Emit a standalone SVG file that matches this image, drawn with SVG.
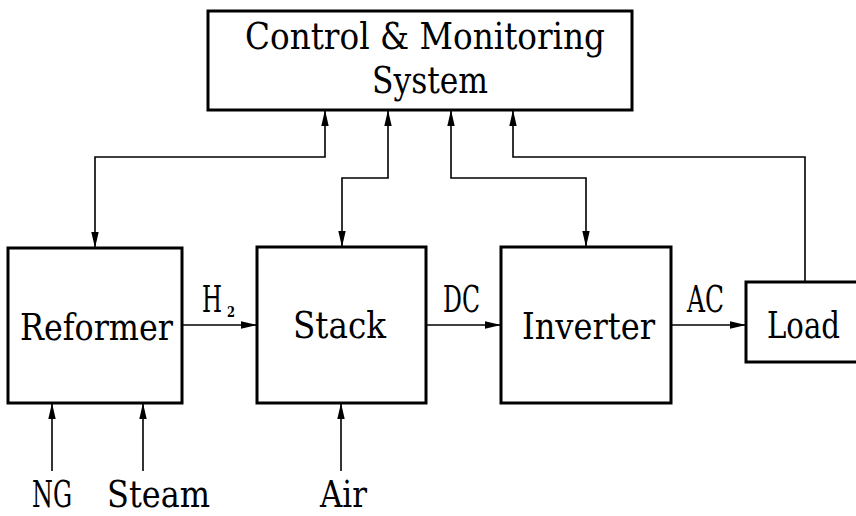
<svg xmlns="http://www.w3.org/2000/svg" width="856" height="516" viewBox="0 0 856 516">
<style>
.box{fill:#fff;stroke:#000;stroke-width:3}
.c{fill:none;stroke:#000;stroke-width:1.6}
.t{font-family:'DejaVu Serif','Liberation Serif',serif;font-size:38px;fill:#000}
.s{font-family:'DejaVu Serif','Liberation Serif',serif;font-size:15px;font-weight:bold;fill:#000}
</style>
<defs>
<marker id="ah" markerUnits="userSpaceOnUse" markerWidth="16" markerHeight="8" refX="15" refY="4" orient="auto-start-reverse" viewBox="0 0 16 8">
<path d="M0,0.3 L16,4 L0,7.7 z" fill="#000"/>
</marker>
</defs>
<rect width="856" height="516" fill="#fff"/>
<g id="connectors">
<path class="c" d="M325,111 V157 H95 V247" marker-start="url(#ah)" marker-end="url(#ah)"/>
<path class="c" d="M388,111 V178 H342 V246" marker-start="url(#ah)" marker-end="url(#ah)"/>
<path class="c" d="M451,111 V178 H586 V246" marker-start="url(#ah)" marker-end="url(#ah)"/>
<path class="c" d="M513,111 V157 H805 V282" marker-start="url(#ah)"/>
<path class="c" d="M182,325 H256" marker-end="url(#ah)"/>
<path class="c" d="M426,325 H500" marker-end="url(#ah)"/>
<path class="c" d="M671,325 H745" marker-end="url(#ah)"/>
<path class="c" d="M52,471 V404" marker-end="url(#ah)"/>
<path class="c" d="M143,471 V404" marker-end="url(#ah)"/>
<path class="c" d="M341,471 V404" marker-end="url(#ah)"/>
<text class="t" x="202" y="312" textLength="20" lengthAdjust="spacingAndGlyphs">H</text>
<text class="s" x="227" y="317" textLength="8" lengthAdjust="spacingAndGlyphs">2</text>
<text class="t" x="443" y="312" textLength="37" lengthAdjust="spacingAndGlyphs">DC</text>
<text class="t" x="687" y="312" textLength="37" lengthAdjust="spacingAndGlyphs">AC</text>
<text class="t" x="32" y="507" textLength="40" lengthAdjust="spacingAndGlyphs">NG</text>
<text class="t" x="107" y="507" textLength="103" lengthAdjust="spacingAndGlyphs">Steam</text>
<text class="t" x="320" y="507" textLength="47" lengthAdjust="spacingAndGlyphs">Air</text>
</g>
<g id="control">
<rect class="box" x="208" y="11" width="424" height="99"/>
<text class="t" x="245" y="49" textLength="360" lengthAdjust="spacingAndGlyphs">Control &amp; Monitoring</text>
<text class="t" x="372" y="93" textLength="116" lengthAdjust="spacingAndGlyphs">System</text>
</g>
<g id="reformer">
<rect class="box" x="8" y="248" width="174" height="155"/>
<text class="t" x="20" y="340" textLength="153" lengthAdjust="spacingAndGlyphs">Reformer</text>
</g>
<g id="stack">
<rect class="box" x="257" y="247" width="169" height="156"/>
<text class="t" x="293" y="338" textLength="93" lengthAdjust="spacingAndGlyphs">Stack</text>
</g>
<g id="inverter">
<rect class="box" x="501" y="247" width="170" height="156"/>
<text class="t" x="522" y="339" textLength="133" lengthAdjust="spacingAndGlyphs">Inverter</text>
</g>
<g id="load">
<rect class="box" x="746" y="282" width="112" height="80"/>
<text class="t" x="767" y="338" textLength="73" lengthAdjust="spacingAndGlyphs">Load</text>
</g>
</svg>
